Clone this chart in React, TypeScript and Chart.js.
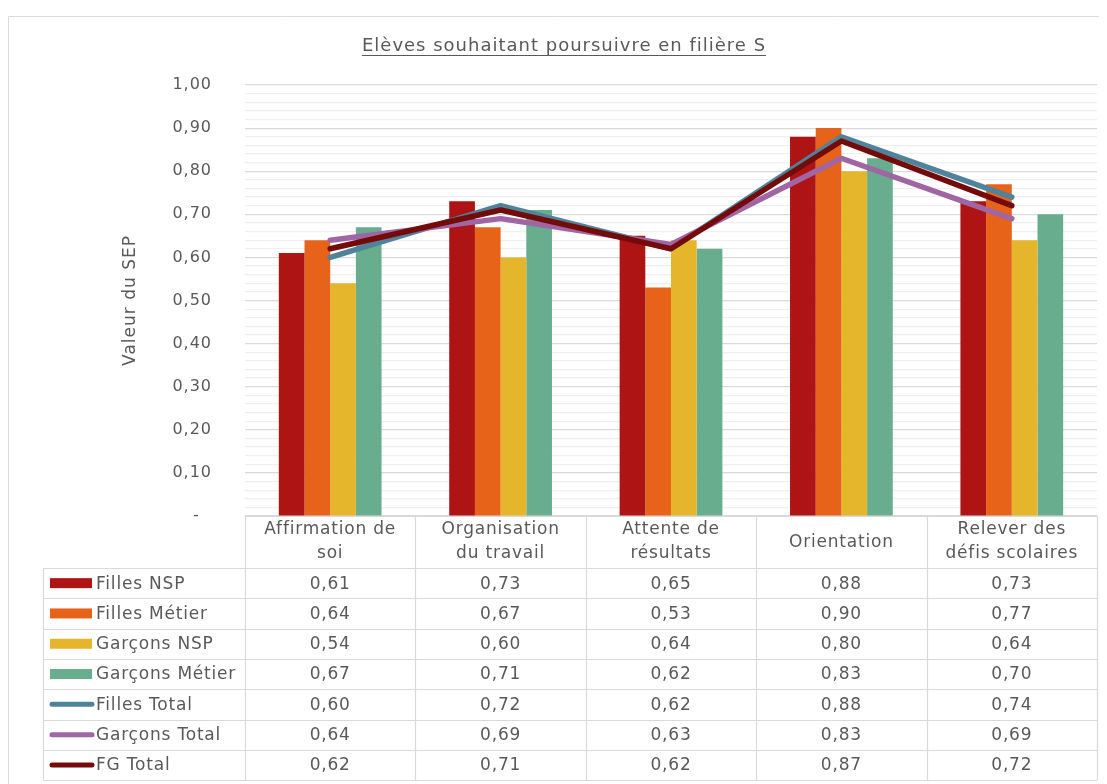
import React, { useEffect, useRef } from 'react';
import { Chart, registerables } from 'chart.js';

Chart.register(...registerables);

// ---------- data ----------
const categories: string[][] = [
  ['Affirmation de', 'soi'],
  ['Organisation', 'du travail'],
  ['Attente de', 'résultats'],
  ['Orientation'],
  ['Relever des', 'défis scolaires'],
];
const fillesNSP = [0.61, 0.73, 0.65, 0.88, 0.73];
const fillesMetier = [0.64, 0.67, 0.53, 0.9, 0.77];
const garconsNSP = [0.54, 0.6, 0.64, 0.8, 0.64];
const garconsMetier = [0.67, 0.71, 0.62, 0.83, 0.7];
const fillesTotal = [0.6, 0.72, 0.62, 0.88, 0.74];
const garconsTotal = [0.64, 0.69, 0.63, 0.83, 0.69];
const fgTotal = [0.62, 0.71, 0.62, 0.87, 0.72];

const seriesNames = ['Filles NSP', 'Filles Métier', 'Garçons NSP', 'Garçons Métier', 'Filles Total', 'Garçons Total', 'FG Total'];
const seriesValues = [fillesNSP, fillesMetier, garconsNSP, garconsMetier, fillesTotal, garconsTotal, fgTotal];
const seriesKinds = ['bar', 'bar', 'bar', 'bar', 'line', 'line', 'line'];
const seriesColors = ['#AE1414', '#E8631A', '#E5B52C', '#69AD8F', '#508399', '#A065A3', '#740B0B'];
const lineOrder = [0, 0, 0, 0, 2, 1, 0];

const chartTitle = 'Elèves souhaitant poursuivre en filière S';
const yTitle = 'Valeur du SEP';
const yMin = 0;
const yMax = 1;
const yStep = 0.02;

// ---------- style ----------
const FONT = "'DejaVu Sans', sans-serif";
const TEXT = '#595959';
const BORDER = '#d9d9d9';

const fmt = (v: number) => v.toFixed(2).replace('.', ',');

const decorPlugin = {
  id: 'decor',
  beforeUpdate(chart: any) {
    chart.ctx.letterSpacing = '1px';
  },
  beforeDraw(chart: any) {
    chart.ctx.letterSpacing = '1px';
  },
  afterDraw(chart: any) {
    const { ctx, chartArea, scales } = chart;
    const x = scales.x;
    const n = categories.length;
    const colW = (chartArea.right - chartArea.left) / n;
    const top = chartArea.bottom;
    const headerH = 52;
    const rowH = 30.3;
    const legendLeft = 35;
    const bottom = top + headerH + rowH * seriesNames.length;

    ctx.save();
    // outer border (left & top)
    ctx.strokeStyle = BORDER;
    ctx.lineWidth = 1;
    ctx.beginPath();
    ctx.moveTo(0.5, chart.height);
    ctx.lineTo(0.5, 0.5);
    ctx.lineTo(chart.width, 0.5);
    ctx.stroke();

    // title
    ctx.fillStyle = TEXT;
    ctx.font = `18px ${FONT}`;
    ctx.letterSpacing = '1px';
    ctx.textAlign = 'center';
    ctx.textBaseline = 'middle';
    const tx = 556;
    const ty = 30;
    ctx.fillText(chartTitle, tx, ty);
    const tw = ctx.measureText(chartTitle).width;
    ctx.strokeStyle = TEXT;
    ctx.beginPath();
    ctx.moveTo(tx - tw / 2, ty + 9.5);
    ctx.lineTo(tx + tw / 2, ty + 9.5);
    ctx.stroke();

    // table grid
    ctx.strokeStyle = BORDER;
    ctx.lineWidth = 1.2;
    ctx.beginPath();
    ctx.moveTo(chartArea.left, top + 0.5);
    ctx.lineTo(chartArea.right, top + 0.5);
    for (let r = 0; r <= seriesNames.length; r++) {
      const y = Math.round(top + headerH + rowH * r) + 0.5;
      ctx.moveTo(legendLeft, y);
      ctx.lineTo(chartArea.right, y);
    }
    for (let c = 0; c <= n; c++) {
      const cx = Math.round(x.getPixelForValue(c) - colW / 2) + 0.5;
      const bx = c === n ? Math.round(x.getPixelForValue(n - 1) + colW / 2) + 0.5 : cx;
      ctx.moveTo(bx, top);
      ctx.lineTo(bx, bottom);
    }
    ctx.moveTo(legendLeft + 0.5, top + headerH);
    ctx.lineTo(legendLeft + 0.5, bottom);
    ctx.stroke();

    // header labels
    ctx.fillStyle = TEXT;
    ctx.font = `17px ${FONT}`;
    ctx.letterSpacing = '0.8px';
    ctx.textAlign = 'center';
    ctx.textBaseline = 'middle';
    categories.forEach((lines, i) => {
      const cx = x.getPixelForValue(i);
      if (lines.length === 1) {
        ctx.fillText(lines[0], cx, top + 27);
      } else {
        ctx.fillText(lines[0], cx, top + 14);
        ctx.fillText(lines[1], cx, top + 38);
      }
    });

    // rows
    seriesNames.forEach((name, r) => {
      const cy = top + headerH + rowH * (r + 0.5);
      const color = seriesColors[r];
      if (seriesKinds[r] === 'bar') {
        ctx.fillStyle = color;
        ctx.fillRect(42, cy - 5, 42, 10);
      } else {
        ctx.strokeStyle = color;
        ctx.lineWidth = 5;
        ctx.lineCap = 'round';
        ctx.beginPath();
        ctx.moveTo(44, cy);
        ctx.lineTo(84, cy);
        ctx.stroke();
      }
      ctx.fillStyle = TEXT;
      ctx.font = `17px ${FONT}`;
      ctx.textAlign = 'left';
      ctx.fillText(name, 88, cy + 1);
      ctx.textAlign = 'center';
      seriesValues[r].forEach((v, i) => {
        ctx.fillText(fmt(v), x.getPixelForValue(i), cy + 1);
      });
    });
    ctx.restore();
  },
};

export default function App() {
  const ref = useRef<HTMLCanvasElement | null>(null);

  useEffect(() => {
    document.documentElement.style.overflow = 'hidden';
    document.body.style.overflow = 'hidden';
    const canvas = ref.current;
    if (!canvas) return;

    const datasets: any[] = seriesNames.map((name, i) => {
      if (seriesKinds[i] === 'bar') {
        return {
          type: 'bar',
          label: name,
          data: seriesValues[i],
          backgroundColor: seriesColors[i],
          borderWidth: 0,
          barPercentage: 1,
          categoryPercentage: 0.603,
          order: 3,
        };
      }
      return {
        type: 'line',
        label: name,
        data: seriesValues[i],
        borderColor: seriesColors[i],
        backgroundColor: seriesColors[i],
        borderWidth: 5.5,
        borderCapStyle: 'round',
        borderJoinStyle: 'round',
        pointRadius: 0,
        tension: 0,
        order: lineOrder[i],
      };
    });

    const chart = new Chart(canvas, {
      type: 'bar',
      data: { labels: categories as any, datasets },
      options: {
        responsive: false,
        animation: false,
        devicePixelRatio: 1,
        layout: { padding: { top: 69, right: 10, bottom: 268, left: 0 } },
        plugins: {
          legend: { display: false },
          title: { display: false },
          tooltip: { enabled: false },
        },
        scales: {
          x: { display: false },
          y: {
            min: yMin,
            max: yMax,
            border: { display: false },
            afterFit: (scale: any) => {
              scale.width = 237;
            },
            grid: {
              drawTicks: false,
              tickLength: 0,
              color: (c: any) => {
                const v = c.tick ? c.tick.value : 0;
                return Math.round(v * 100) % 10 === 0 ? '#d9d9d9' : '#efefef';
              },
              lineWidth: 1.2,
            },
            ticks: {
              stepSize: yStep,
              autoSkip: false,
              padding: 33,
              color: TEXT,
              font: { family: FONT, size: 16 },
              callback: (v: any) => {
                const n = Number(v);
                const k = Math.round(n * 100);
                if (k % 10 !== 0) return '';
                if (k === 0) return '-  ';
                return fmt(n);
              },
            },
            title: {
              display: true,
              text: yTitle,
              color: TEXT,
              font: { family: FONT, size: 17 },
              padding: { top: 112, bottom: 0 },
            },
          },
        },
      },
      plugins: [decorPlugin],
    } as any);

    return () => chart.destroy();
  }, []);

  return (
    <div style={{ paddingTop: 8 }}>
      <canvas ref={ref} width={1099} height={768} style={{ display: 'block', width: 1099, height: 768 }} />
    </div>
  );
}
